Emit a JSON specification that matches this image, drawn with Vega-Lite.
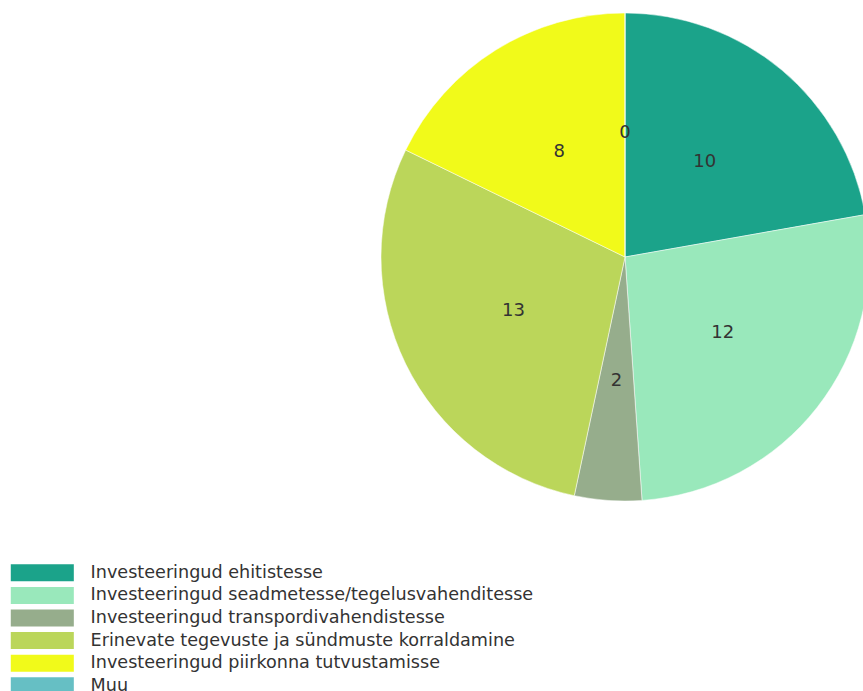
{
  "$schema": "https://vega.github.io/schema/vega-lite/v6.json",
  "autosize": "none",
  "padding": {"top": 0, "left": 0, "right": 0, "bottom": 177},
  "width": 1250,
  "height": 514,
  "background": "white",
  "data": {"values": [
    {"idx": 1, "cat": "Investeeringud ehitistesse", "value": 10},
    {"idx": 2, "cat": "Investeeringud seadmetesse/tegelusvahenditesse", "value": 12},
    {"idx": 3, "cat": "Investeeringud transpordivahendistesse", "value": 2},
    {"idx": 4, "cat": "Erinevate tegevuste ja sündmuste korraldamine", "value": 13},
    {"idx": 5, "cat": "Investeeringud piirkonna tutvustamisse", "value": 8},
    {"idx": 6, "cat": "Muu", "value": 0}
  ]},
  "encoding": {
    "theta": {"field": "value", "type": "quantitative", "stack": true},
    "order": {"field": "idx", "type": "quantitative"},
    "color": {
      "field": "cat", "type": "nominal",
      "scale": {
        "domain": ["Investeeringud ehitistesse", "Investeeringud seadmetesse/tegelusvahenditesse", "Investeeringud transpordivahendistesse", "Erinevate tegevuste ja sündmuste korraldamine", "Investeeringud piirkonna tutvustamisse", "Muu"],
        "range": ["#1ba38a", "#99e8bb", "#96ad8c", "#bbd65a", "#f1fa1a", "#66bfc4"]
      },
      "legend": {
        "orient": "none",
        "legendX": 33.5,
        "legendY": 564,
        "title": null,
        "symbolType": "M-3.94,-1.06H3.94V1.06H-3.94Z",
        "symbolSize": 256,
        "symbolStrokeWidth": 0,
        "symbolOpacity": 1,
        "labelFont": "DejaVu Sans",
        "labelFontSize": 17.6,
        "labelColor": "#333333",
        "labelOffset": 39.5,
        "rowPadding": 3.6,
        "labelLimit": 700
      }
    }
  },
  "layer": [
    {"mark": {"type": "arc", "outerRadius": 244, "stroke": "#ffffff", "strokeWidth": 0.5}},
    {"mark": {"type": "text", "radius": 124, "font": "DejaVu Sans", "fontSize": 18, "fill": "#333333"},
     "encoding": {"text": {"field": "value", "type": "quantitative"}, "color": {"value": "#333333"}}}
  ]
}
